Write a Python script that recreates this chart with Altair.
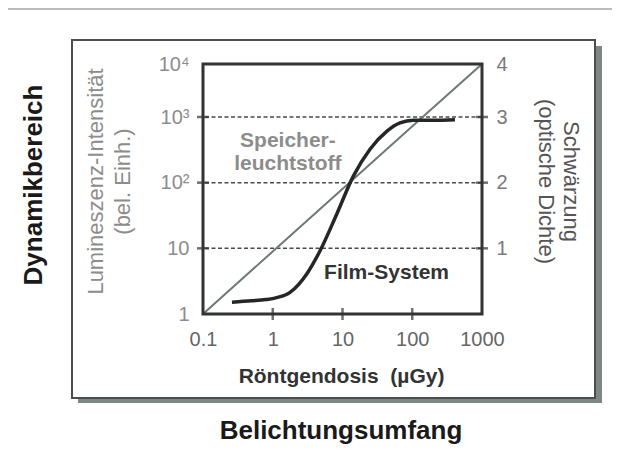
import json
import altair as alt

# ---------------- data ----------------
film_dose = [0.26, 0.5, 0.8, 1.14, 1.77, 3.07, 4.75, 8.26, 14.3, 24.8, 43, 66.7, 104, 200, 410]
film_density = [0.18, 0.2, 0.22, 0.25, 0.33, 0.61, 0.96, 1.52, 2.10, 2.51, 2.78, 2.91, 2.95, 2.95, 2.96]
phosphor_dose = [0.1, 141, 1000]
phosphor_level = [0, 3, 4]
grid_levels = [1, 2, 3]
x_label_values = [0.1, 1, 10, 100, 1000]
x_tick_values = [1, 10, 100]
left_values = [0, 1, 2, 3, 4]
left_labels = ["1", "10", "10²", "10³", "10⁴"]
right_values = [1, 2, 3, 4]
annot_text = ["Speicher-", "leuchtstoff", "Film-System"]
annot_dose = [1.65, 1.65, 42.8]
annot_level = [2.64, 2.28, 0.617]
annot_color = ["#8c8c8c", "#8c8c8c", "#333333"]

W, H = 279, 250
FONT = "Liberation Sans"

xs = alt.Scale(type="log", domain=[0.1, 1000], nice=False)
ys = alt.Scale(domain=[0, 3, 4], range=[H, 53, 0], nice=False, zero=False)

one = alt.Data(values=[{"k": 1}])

# ---------------- decorations ----------------
band = alt.Chart(one).mark_rect(color="#b9bbbe").encode(
    x=alt.value(-195), x2=alt.value(W + 130), y=alt.value(-56), y2=alt.value(-54))
shadow = alt.Chart(one).mark_rect(color="#7d8783").encode(
    x=alt.value(-125), x2=alt.value(399), y=alt.value(-18), y2=alt.value(339))
frame = alt.Chart(one).mark_rect(fill="white", stroke="#4d4d4d", strokeWidth=2).encode(
    x=alt.value(-131), x2=alt.value(392), y=alt.value(-24), y2=alt.value(334))

left_axis = alt.Axis(
    orient="left", values=left_values, zindex=2,
    labelExpr=json.dumps(left_labels) + "[datum.value]",
    ticks=False, tickSize=0, domain=False, grid=False,
    labelColor="#8c8c8c", labelFontSize=20, labelPadding=14, labelFlush=False,
    labelOverlap=False,
    title=["Lumineszenz-Intensität", "(bel. Einh.)"],
    titleFontSize=22, titleFontWeight="normal", titleColor="#8c8c8c",
    titleAngle=270, titleX=-108, titleY=117, titleBaseline="middle",
    titleAlign="center", titleLineHeight=27)

right_axis = alt.Axis(
    orient="right", values=right_values, format="d", zindex=2,
    ticks=False, tickSize=0, domain=False, grid=False,
    labelColor="#7a7a7a", labelFontSize=20, labelPadding=14, labelFlush=False,
    labelOverlap=False,
    title=["Schwärzung", "(optische Dichte)"],
    titleFontSize=22, titleFontWeight="normal", titleColor="#555555",
    titleAngle=90, titleX=88, titleY=117, titleBaseline="middle",
    titleAlign="center", titleLineHeight=25)

x_axis = alt.Axis(
    values=x_label_values, format="~g", zindex=2,
    ticks=False, tickSize=0, domain=False, grid=False,
    labelColor="#666666", labelFontSize=20, labelPadding=15, labelFlush=False,
    labelOverlap=False,
    title="Röntgendosis\u00a0\u00a0(µGy)",
    titleFontSize=21, titleFontWeight="bold", titleColor="#333333",
    titleX=138, titleY=62, titleBaseline="middle", titleAlign="center")

grid = alt.Chart(alt.Data(values=[{"level": v} for v in grid_levels])).mark_rule(
    color="#4a4a4a", strokeWidth=1.5, strokeDash=[4, 2.5]).encode(
    y=alt.Y("level:Q", scale=ys, axis=left_axis))

diag = alt.Chart(alt.Data(values=[{"dose": d, "level": l} for d, l in zip(phosphor_dose, phosphor_level)])).mark_line(
    color="#6e7875", strokeWidth=2).encode(
    x=alt.X("dose:Q", scale=xs, axis=x_axis),
    y=alt.Y("level:Q", scale=ys, axis=None))

film = alt.Chart(alt.Data(values=[{"dose": d, "level": l} for d, l in zip(film_dose, film_density)])).mark_line(
    color="#262626", strokeWidth=3.5, interpolate="monotone").encode(
    x=alt.X("dose:Q", scale=xs, axis=None),
    y=alt.Y("level:Q", scale=ys, axis=None))

bticks = alt.Chart(alt.Data(values=[{"dose": d} for d in x_tick_values])).mark_tick(
    orient="vertical", size=12, thickness=2.5, color="#333333").encode(
    x=alt.X("dose:Q", scale=xs, axis=None), y=alt.value(H))

lticks = alt.Chart(alt.Data(values=[{"level": v} for v in grid_levels])).mark_tick(
    orient="horizontal", size=12, thickness=2.5, color="#333333").encode(
    y=alt.Y("level:Q", scale=ys, axis=None), x=alt.value(0))

rticks = alt.Chart(alt.Data(values=[{"level": v} for v in grid_levels])).mark_tick(
    orient="horizontal", size=12, thickness=2.5, color="#333333").encode(
    y=alt.Y("level:Q", scale=ys, axis=right_axis), x=alt.value(W))

border = alt.Chart(one).mark_rect(fillOpacity=0, stroke="#333333", strokeWidth=3).encode(
    x=alt.value(0), x2=alt.value(W), y=alt.value(0), y2=alt.value(H))

annot = alt.Chart(alt.Data(values=[
    {"t": t, "dose": d, "level": l, "c": c}
    for t, d, l, c in zip(annot_text, annot_dose, annot_level, annot_color)])).mark_text(
    fontSize=21, fontWeight="bold", align="center", baseline="middle").encode(
    x=alt.X("dose:Q", scale=xs, axis=None),
    y=alt.Y("level:Q", scale=ys, axis=None),
    text="t:N", color=alt.Color("c:N", scale=None))

dyn = alt.Chart(one).mark_text(
    text="Dynamikbereich", fontSize=26, fontWeight="bold", angle=270,
    align="center", baseline="middle", color="#1a1a1a").encode(
    x=alt.value(-169), y=alt.value(121))

bel = alt.Chart(one).mark_text(
    text="Belichtungsumfang", fontSize=26, fontWeight="bold",
    align="center", baseline="middle", color="#1a1a1a").encode(
    x=alt.value(138), y=alt.value(367))

chart = alt.layer(
    band, shadow, frame, grid, diag, film, bticks, lticks, rticks, border, annot, dyn, bel
).resolve_axis(x="independent", y="independent").properties(
    width=W, height=H,
    autosize=alt.AutoSizeParams(type="none"),
    padding={"left": 195, "top": 56, "right": 130, "bottom": 135},
).configure(font=FONT).configure_view(strokeWidth=0)

chart.save("out.html", embed_options={"renderer": "svg", "actions": False})
